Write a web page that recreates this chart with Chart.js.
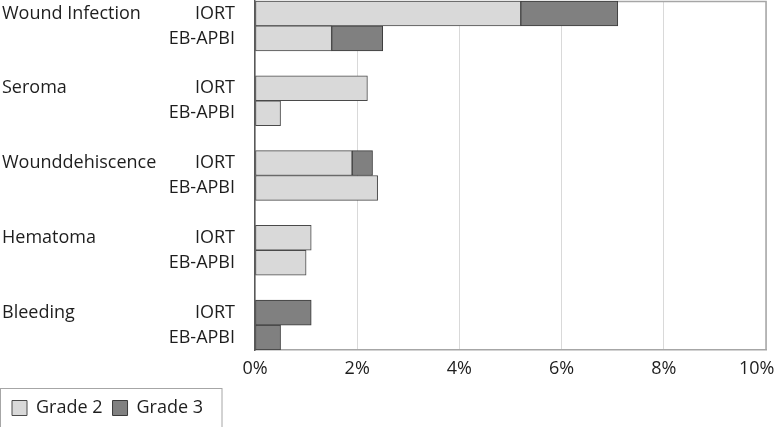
<!DOCTYPE html>
<html><head><meta charset="utf-8">
<script src="https://cdn.jsdelivr.net/npm/chart.js@4"></script>
<style>html,body{margin:0;padding:0;background:#fff}#wrap{width:774px;height:427px;position:relative}</style>
</head><body><div id="wrap"><canvas id="c"></canvas></div>
<script>
const complications = ['Wound Infection', 'Seroma', 'Wounddehiscence', 'Hematoma', 'Bleeding'];
const arms = ['IORT', 'EB-APBI'];
const seriesNames = ['Grade 2', 'Grade 3'];
const grade2IORT   = [5.2, 2.2, 1.9, 1.1, 0];
const grade2EBAPBI = [1.5, 0.5, 2.4, 1.0, 0];
const grade3IORT   = [1.9, 0,   0.4, 0,   1.1];
const grade3EBAPBI = [1.0, 0,   0,   0,   0.5];
const xTickValues = [0, 2, 4, 6, 8, 10];

const FONT = '"Open Sans", sans-serif';
const FS = 18;
const TXT = '#1e1e1e';

// rows: IORT, EB-APBI, spacer ...
const armLabels = [], groupLabels = [], g2 = [], g3 = [];
complications.forEach((c, i) => {
  armLabels.push(arms[0], arms[1]);
  groupLabels.push(c, '');
  g2.push(grade2IORT[i] || null, grade2EBAPBI[i] || null);
  g3.push(grade3IORT[i] || null, grade3EBAPBI[i] || null);
  if (i < complications.length - 1) { armLabels.push(''); groupLabels.push(''); g2.push(null); g3.push(null); }
});

const meas = document.createElement('canvas').getContext('2d');
meas.font = FS + 'px ' + FONT;
const widestGroup = Math.max(...groupLabels.map(s => meas.measureText(s).width));

const framePlugin = {
  id: 'frame',
  beforeDatasetsDraw(chart) {
    const {ctx, chartArea: a} = chart;
    ctx.save();
    ctx.strokeStyle = '#a6a6a6';
    ctx.lineWidth = 1.5;
    ctx.beginPath();
    ctx.moveTo(a.left, a.top + 0.5); ctx.lineTo(a.right, a.top + 0.5);
    ctx.lineTo(a.right, a.bottom);
    ctx.stroke();
    ctx.restore();
  },
  afterDraw(chart) {
    const lg = chart.legend;
    if (!lg || !lg.legendHitBoxes || !lg.legendHitBoxes.length) return;
    const ctx = chart.ctx;
    ctx.save();
    ctx.strokeStyle = '#a6a6a6';
    ctx.lineWidth = 1;
    ctx.strokeRect(0.5, 388.5, 221.5, 60);
    ctx.restore();
  }
};

new Chart(document.getElementById('c'), {
  type: 'bar',
  data: {
    labels: armLabels,
    datasets: [
      { label: seriesNames[0], data: g2, backgroundColor: '#d9d9d9', borderColor: '#4a4a4a', borderWidth: 1, borderSkipped: false },
      { label: seriesNames[1], data: g3, backgroundColor: '#808080', borderColor: '#3a3a3a', borderWidth: 1, borderSkipped: false }
    ]
  },
  options: {
    indexAxis: 'y',
    responsive: true,
    maintainAspectRatio: false,
    animation: false,
    datasets: { bar: { barPercentage: 1, categoryPercentage: 1 } },
    layout: { padding: { left: 2, top: 1, right: 8, bottom: 0 } },
    plugins: {
      tooltip: { enabled: false },
      legend: {
        position: 'bottom',
        align: 'start',
        labels: { boxWidth: 15, boxHeight: 15, padding: 10, color: TXT, font: { family: FONT, size: FS } }
      }
    },
    scales: {
      x: {
        type: 'linear',
        stacked: true,
        min: 0, max: 10,
        afterBuildTicks: (s) => { s.ticks = xTickValues.map(v => ({ value: v })); },
        ticks: {
          color: TXT, font: { family: FONT, size: FS }, padding: 8, maxRotation: 0,
          callback: (v) => v === 10 ? v + '%\u00a0\u00a0\u00a0\u00a0' : v + '%'
        },
        grid: { color: '#d9d9d9', drawTicks: false, lineWidth: 1 },
        border: { display: true, color: '#a6a6a6', width: 1.5 },
        afterFit: (s) => { s.paddingLeft = 0; s.paddingRight = 0; s.height = 39; }
      },
      y: {
        type: 'category',
        stacked: true,
        offset: true,
        weight: 0,
        ticks: { color: TXT, font: { family: FONT, size: FS }, padding: 20, autoSkip: false },
        grid: { display: false, drawTicks: false },
        border: { display: true, color: '#595959', width: 1.5 },
        afterFit: (s) => { s.width = 253 - (widestGroup + 1); s.paddingTop = 0; s.paddingBottom = 0; }
      },
      y2: {
        type: 'category',
        position: 'left',
        labels: groupLabels,
        offset: true,
        weight: 1,
        ticks: { color: TXT, font: { family: FONT, size: FS }, padding: 0, autoSkip: false, crossAlign: 'far' },
        grid: { display: false, drawTicks: false },
        border: { display: false },
        afterFit: (s) => { s.width = widestGroup + 1; s.paddingTop = 0; s.paddingBottom = 0; }
      }
    }
  },
  plugins: [framePlugin]
});
</script>
</body></html>
